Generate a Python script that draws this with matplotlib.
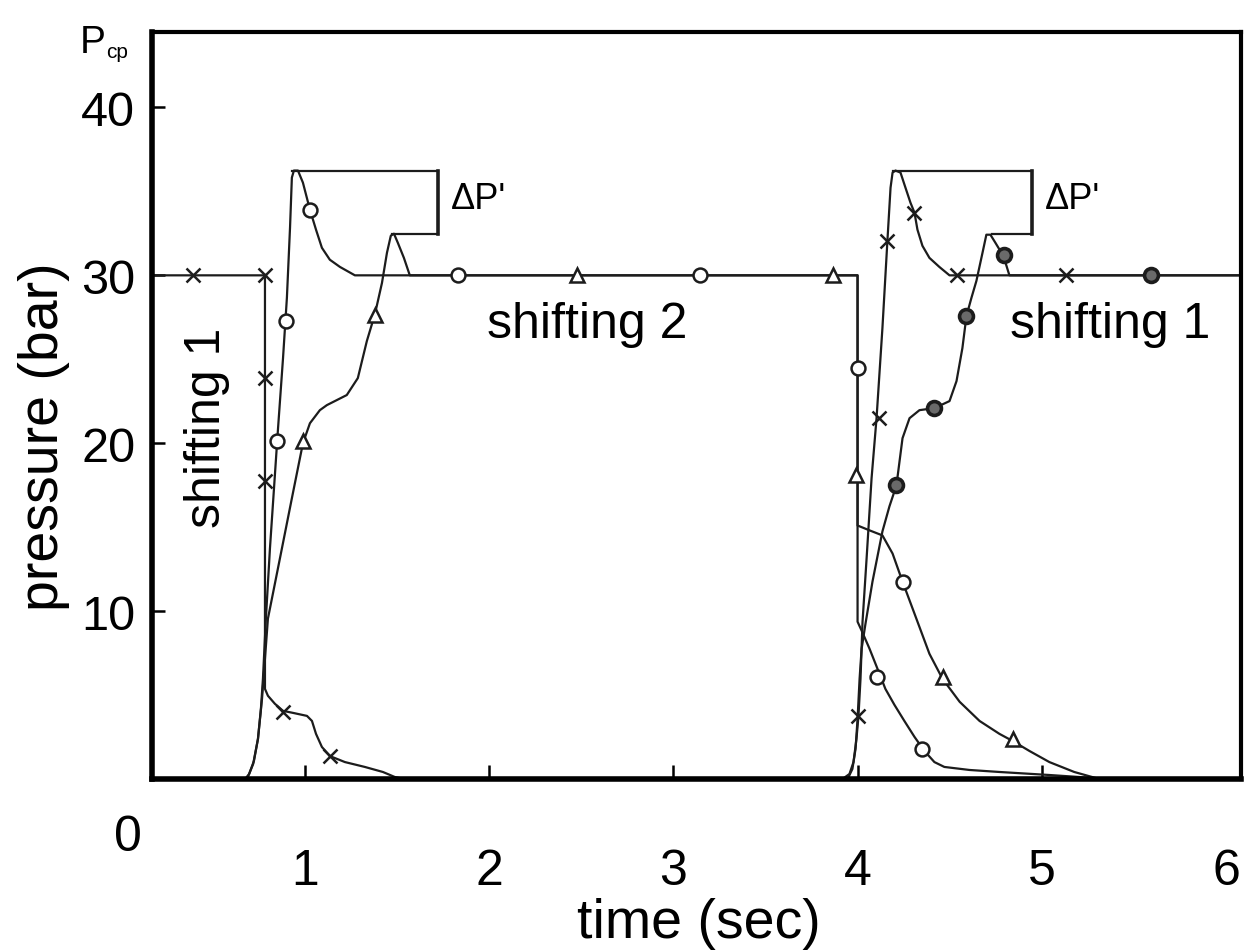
import matplotlib
matplotlib.use('Agg')

import matplotlib.pyplot as plt
import numpy as np

plt.rcParams.update({
    'font.family': 'sans-serif',
    'font.sans-serif': ['Liberation Sans', 'Arial', 'DejaVu Sans'],
    'font.size': 36,
    'axes.linewidth': 3.0,
    'xtick.labelsize': 36,
    'ytick.labelsize': 35,
})

# clutch pressure traces, time in s, pressure in bar
# x: off-going clutch in shift 1, on-coming clutch in shift 2
t_x = [0.17, 0.783, 0.783, 0.799, 0.837, 0.881, 0.935, 1.011, 1.038, 1.060, 1.092,
       1.135, 1.217, 1.325, 1.423, 1.488, 1.542, 3.917, 3.955, 3.977, 3.993, 4.004,
       4.015, 4.026, 4.048, 4.075, 4.102, 4.134, 4.161, 4.178, 4.189, 4.205, 4.232,
       4.259, 4.286, 4.308, 4.324, 4.351, 4.389, 4.443, 4.498, 6.08]
p_x = [30, 30, 5.37, 4.96, 4.48, 4.06, 3.94, 3.76, 3.46, 2.69, 1.91,
       1.37, 1.01, 0.72, 0.42, 0.12, 0, 0, 0.30, 1.01, 2.39, 3.76,
       5.97, 9.37, 13.13, 17.91, 21.49, 26.87, 32.06, 35.22, 36.12, 36.24, 36.12,
       35.22, 34.33, 33.73, 32.72, 31.76, 31.04, 30.5, 30, 30]
mark_t_x = [0.393, 0.783, 0.783, 0.783, 0.881, 1.135, 4.004, 4.113, 4.161, 4.308, 4.536, 5.132]
mark_p_x = [30, 30, 23.88, 17.73, 4.0, 1.37, 3.76, 21.49, 32.06, 33.73, 30, 30]

# open circles
t_o = [0.675, 0.697, 0.723, 0.745, 0.761, 0.772, 0.788, 0.810, 0.832, 0.854, 0.881,
       0.902, 0.919, 0.929, 0.940, 0.962, 0.989, 1.027, 1.060, 1.092, 1.135, 1.190,
       1.271, 3.999, 3.999, 4.021, 4.064, 4.107, 4.150, 4.199, 4.253, 4.308, 4.362,
       4.416, 4.470, 4.606, 4.769, 5.040, 5.203, 5.311]
p_o = [0, 0.30, 1.07, 2.39, 4.18, 5.97, 9.55, 13.73, 17.31, 20.90, 25.07,
       28.66, 32.84, 35.82, 36.24, 36.24, 35.52, 33.91, 32.72, 31.64, 30.93, 30.5,
       30, 30, 9.37, 8.84, 7.76, 6.57, 5.37, 4.42, 3.46, 2.51, 1.67,
       1.01, 0.72, 0.54, 0.42, 0.24, 0.12, 0]
mark_t_o = [0.848, 0.897, 1.027, 1.830, 3.142, 3.999, 4.107, 4.351, 4.243]
mark_p_o = [20.12, 27.28, 33.91, 30, 30, 24.48, 6.09, 1.79, 11.76]

# triangles
t_tri = [0.686, 0.719, 0.745, 0.767, 0.783, 0.799, 0.864, 0.929, 0.989, 1.027, 1.081,
         1.119, 1.227, 1.287, 1.336, 1.380, 1.418, 1.445, 1.466, 1.483, 1.504, 1.537,
         1.569, 3.999, 3.999, 4.064, 4.134, 4.189, 4.243, 4.308, 4.389, 4.460, 4.553,
         4.661, 4.769, 4.840, 4.932, 5.040, 5.175, 5.311]
p_tri = [0, 0.90, 2.39, 4.78, 7.16, 9.55, 13.13, 16.72, 20.0, 21.19, 21.97,
         22.27, 22.87, 23.88, 26.09, 27.70, 29.55, 31.34, 32.36, 32.48, 31.94, 31.04,
         30, 30, 15.10, 14.81, 14.51, 13.43, 11.76, 9.85, 7.46, 5.97, 4.60,
         3.46, 2.69, 2.27, 1.67, 1.01, 0.42, 0]
mark_t_tri = [0.989, 1.380, 2.475, 3.863, 3.993, 4.460, 4.840]
mark_p_tri = [20.12, 27.64, 30, 30, 18.09, 6.09, 2.39]

# dotted circles, shift 2 only
t_dot = [3.945, 3.971, 3.988, 3.999, 4.010, 4.021, 4.042, 4.080, 4.134, 4.172, 4.210,
         4.243, 4.281, 4.335, 4.416, 4.498, 4.536, 4.568, 4.590, 4.617, 4.644, 4.677,
         4.698, 4.720, 4.747, 4.780, 4.802, 4.823, 6.08]
p_dot = [0, 0.6, 1.79, 3.58, 5.97, 7.76, 9.25, 11.76, 14.75, 16.24, 17.49,
         20.30, 21.49, 21.97, 22.09, 22.51, 23.70, 25.67, 27.58, 28.66, 29.67, 31.34,
         32.42, 32.42, 31.94, 31.34, 30.75, 30, 30]
mark_t_dot = [4.210, 4.416, 4.590, 4.796, 5.593]
mark_p_dot = [17.49, 22.09, 27.58, 31.22, 30]

x_ticks = [1, 2, 3, 4, 5, 6]
y_ticks = [10, 20, 30, 40]

ink = '#1c1c1c'

fig = plt.figure(figsize=(12.46, 9.53), dpi=100)
ax = fig.add_axes([0.122, 0.1815, 0.874, 0.784])

lw = 1.6
ax.plot(t_x, p_x, color=ink, lw=lw)
ax.plot(t_o, p_o, color=ink, lw=lw)
ax.plot(t_tri, p_tri, color=ink, lw=lw)
ax.plot(t_dot, p_dot, color=ink, lw=lw)

ax.plot(mark_t_x, mark_p_x, ls='none', marker='x', ms=10, mew=1.8, color=ink)
ax.plot(mark_t_o, mark_p_o, ls='none', marker='o', ms=10, mew=1.8,
        mfc='white', mec=ink)
ax.plot(mark_t_tri, mark_p_tri, ls='none', marker='^', ms=10, mew=1.8,
        mfc='white', mec=ink)
ax.plot(mark_t_dot, mark_p_dot, ls='none', marker='o', ms=10, mew=2.6,
        mfc='#6a6a6a', mec=ink)

# delta P' brackets between the two overshoot peaks
hi = max(p_x)
lo = max(p_tri)
for t_peak, t_peak2, t_br in [(0.929, 1.472, 1.721), (4.189, 4.731, 4.948)]:
    ax.plot([t_peak, t_br], [hi, hi], color=ink, lw=lw)
    ax.plot([t_peak2, t_br], [lo, lo], color=ink, lw=lw)
    ax.plot([t_br, t_br], [hi, lo], color=ink, lw=2.6)
    ax.text(t_br + 0.22, (hi + lo) / 2 + 0.2, "ΔP'", fontsize=26,
            ha='center', va='center')

ax.text(2.53, 27.1, 'shifting 2', ha='center', va='center', fontsize=36)
ax.text(5.37, 27.1, 'shifting 1', ha='center', va='center', fontsize=36)
ax.text(0.47, 21.0, 'shifting 1', ha='center', va='center', fontsize=36,
        rotation=90)

ax.set_xlim(0.17, 6.08)
ax.set_ylim(0, 44.5)
ax.set_xticks(x_ticks)
ax.set_yticks(y_ticks)
ax.tick_params(axis='x', direction='in', length=10, width=1.8, pad=50)
ax.tick_params(axis='y', direction='in', length=9, width=1.8, pad=12)
ax.xaxis.get_major_ticks()[-1].tick1line.set_visible(False)

for side in ['left', 'bottom']:
    ax.spines[side].set_linewidth(4.0)
for side in ['top', 'right']:
    ax.spines[side].set_linewidth(3.0)

ax.text(-0.022, -0.078, '0', transform=ax.transAxes, ha='center', va='center',
        fontsize=36)
fig.text(80 / 1246, 1 - 53 / 953, 'P', fontsize=28, va='baseline')
fig.text(106 / 1246, 1 - 58 / 953, 'cp', fontsize=15, va='baseline')

ax.set_xlabel('time (sec)', fontsize=40)
ax.set_ylabel('pressure (bar)', fontsize=40)
ax.xaxis.set_label_coords(0.502, -0.158)
ax.yaxis.set_label_coords(-0.075, 0.46)

fig.savefig('out.png', dpi=100)
plt.close(fig)
